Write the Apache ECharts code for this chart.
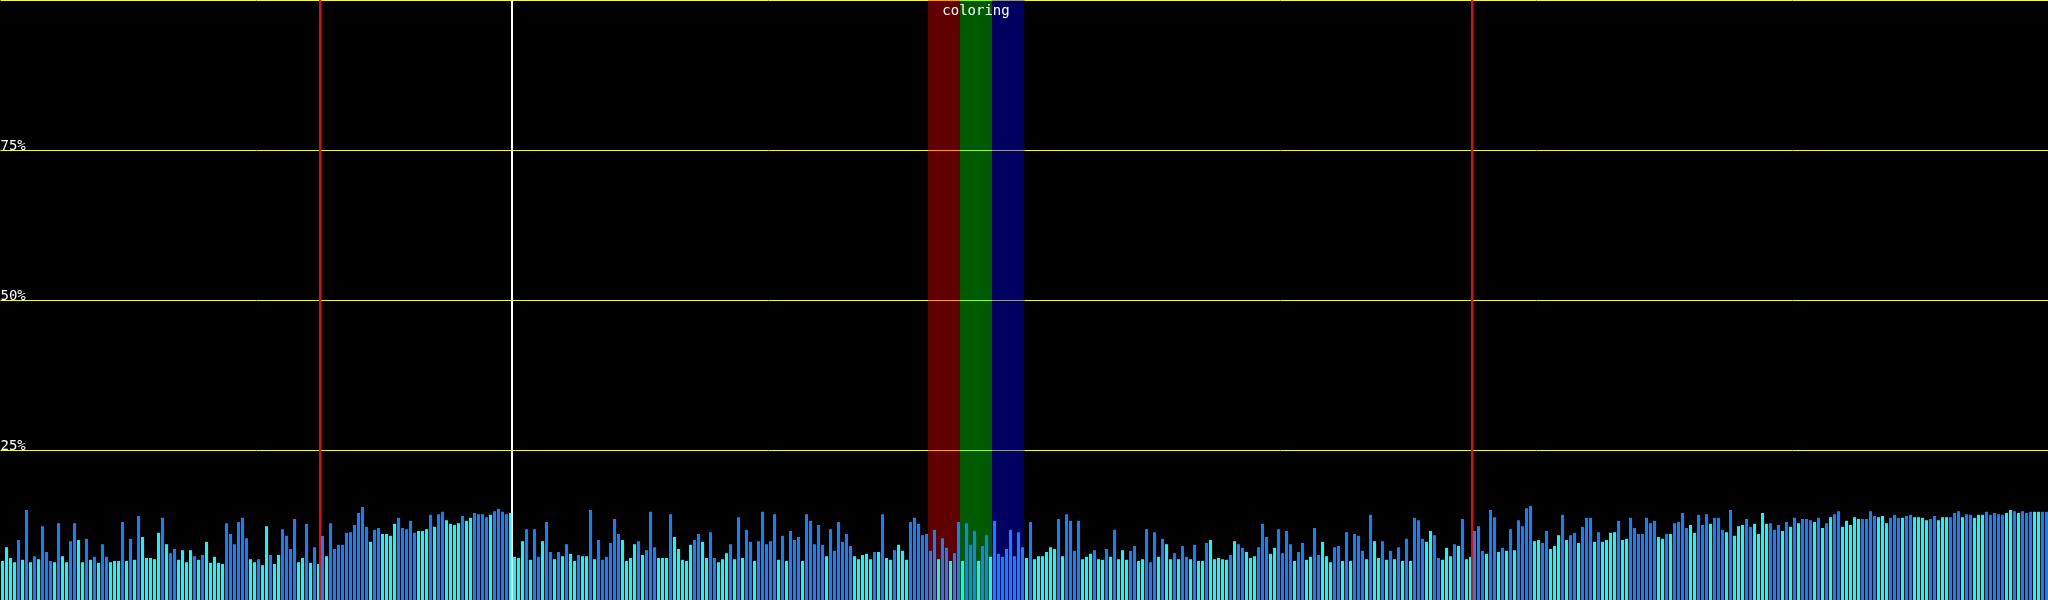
<!DOCTYPE html>
<html>
<head>
<meta charset="utf-8">
<script src="https://cdn.jsdelivr.net/npm/echarts@6/dist/echarts.min.js"></script>
<style>
html,body{margin:0;padding:0;background:#000;}
#chart{width:2048px;height:600px;}
</style>
</head>
<body>
<div id="chart"></div>
<script>
// ---- data (values in % of full height) ----
const values1 = [6.5,8.8,7.0,6.3,10.0,6.7,15.0,6.3,7.3,6.8,
12.3,8.0,6.5,6.3,12.8,7.3,6.3,9.8,12.8,10.0,
6.3,10.2,6.7,7.2,6.2,9.3,7.2,6.3,6.5,6.5,
13.0,6.5,10.2,6.7,14.0,10.5,7.0,7.0,6.8,11.2,
13.7,9.3,7.8,8.5,6.7,8.3,6.3,8.3,7.3,6.7,
7.5,9.7,6.2,7.2,6.2,6.0,12.8,11.0,9.3,13.0,
13.7,10.3,6.8,6.3,6.8,5.8,12.3,7.5,6.0,7.5,
11.8,10.7,8.5,13.5,6.3,7.0,12.7,6.2,8.8,6.0,
10.7,7.3,12.8,8.5,9.2,9.2,11.2,11.3,12.5,14.5,
15.5,12.2,9.7,11.7,12.0,11.0,11.0,10.7,12.7,13.7];
const values2 = [12.0,11.8,13.2,11.2,11.5,11.5,11.8,14.2,12.2,14.3,
14.7,13.3,12.7,12.5,12.8,14.0,13.2,13.7,14.5,14.3,
14.3,13.8,14.2,14.8,15.2,14.7,14.3,14.5,7.2,7.0,
9.8,11.8,6.7,11.8,7.2,9.8,13.0,8.0,6.8,8.0,
7.3,9.3,7.7,6.5,7.5,7.3,7.3,15.0,6.8,10.0,
6.7,7.2,9.5,13.5,11.0,10.0,6.5,7.0,9.3,9.8,
7.5,8.3,14.7,8.8,7.0,7.0,7.0,14.3,10.5,8.5,
6.7,6.5,9.2,10.0,11.0,9.7,7.0,11.3,7.0,6.3,
6.8,7.8,9.3,6.8,13.8,7.0,11.7,9.7,6.5,9.8,
14.7,9.3,9.8,14.3,6.7,10.7,6.5,11.5,10.0,10.5];
const values3 = [6.5,14.3,13.2,9.3,12.5,9.2,7.3,11.8,8.2,13.0,
9.7,11.0,9.0,7.3,6.8,7.5,7.7,6.8,8.0,8.0,
14.3,7.0,6.7,8.3,9.2,8.2,6.7,13.0,13.7,12.7,
10.8,11.0,8.2,11.7,6.8,10.3,8.7,6.5,7.8,13.0,
6.5,12.8,9.2,11.5,6.5,9.0,10.8,7.2,13.2,7.7,
7.2,8.5,11.7,7.3,11.3,8.8,7.0,13.0,6.8,7.3,
7.3,8.0,8.8,8.5,13.5,7.3,14.3,13.2,8.2,13.2,
6.8,7.2,7.7,8.3,6.8,6.7,8.5,7.2,11.7,6.8,
8.3,6.7,8.2,9.0,6.5,6.8,11.8,6.3,11.3,7.2,
10.2,9.3,6.8,7.8,6.8,9.0,7.2,6.8,9.2,6.5];
const values4 = [6.5,9.5,10.0,6.8,7.0,6.8,6.7,7.5,9.8,9.3,
8.7,8.0,7.0,7.3,8.8,12.7,10.5,7.7,8.7,11.8,
7.8,11.5,9.3,6.5,8.0,9.5,6.7,7.2,12.0,7.5,
9.7,7.3,6.3,8.8,9.0,6.5,11.3,6.5,11.0,10.7,
8.2,6.8,14.2,9.8,7.0,9.8,6.7,8.2,6.8,8.8,
6.5,10.2,6.5,13.7,13.3,10.2,9.7,11.5,10.8,7.0,
6.7,8.7,7.3,9.3,9.0,13.5,6.8,7.2,11.5,12.3,
8.2,7.7,15.0,13.8,8.0,8.7,8.2,11.8,8.3,13.3,
12.3,15.3,15.7,9.8,10.0,9.5,11.5,8.5,9.0,10.8,
14.2,10.0,10.8,11.2,9.5,12.2,13.7,13.7,9.7,11.3];
const values5 = [9.7,10.0,11.2,11.3,13.2,10.0,10.2,13.7,12.0,11.0,
11.0,13.7,12.8,13.2,10.5,10.2,11.0,11.0,12.8,13.0,
14.5,12.0,12.5,11.2,14.2,12.5,14.3,12.7,13.7,13.7,
11.7,11.3,15.0,10.7,12.3,12.5,13.5,12.2,12.7,11.0,
14.5,12.7,12.8,11.7,12.5,11.5,13.0,12.2,13.7,12.8,
13.5,13.5,13.3,13.0,13.7,12.0,12.8,13.8,14.3,14.8,
12.2,13.2,12.5,13.8,13.5,13.5,13.5,14.8,14.0,13.8,
14.0,12.8,13.7,14.2,13.7,13.7,14.0,14.2,13.8,13.8,
13.7,13.3,13.5,14.0,13.3,13.8,13.8,13.8,14.5,14.8,
13.8,14.3,14.2,13.7,14.2,14.2,14.7,14.2,14.5,14.3,
14.2,14.5,15.0,14.8,14.5,14.8,14.5,14.7,14.7,14.7,
14.7,14.7];

// bar kind per bar: c = cyan, b = blue
const kinds1 = "ccccbcbcbc" + "bbbcbccbbc" + "cbcbcbbccc" + "bcbcbccccc" + "bcbbccccbc" +
               "bcccccbbbb" + "bbccbccbcc" + "bbbbccbcbc" + "bcbbbbbbbb" + "bbcbbccccb";
const kinds2 = "bbbbcccbcb" + "bccccbccbb" + "bbcbbbbccc" + "cbcbbcbbcb" + "cbccbccbcb" +
               "bbbbbccccb" + "cbbbcccbcc" + "cccbbccbbc" + "ccbcbcbbcb" + "bbbbcbcbbb";
const kinds3 = "cbbbbbcbbb" + "bbbcccccbc" + "bccbcccbbb" + "bbbbcbbcbb" + "cbbbcbbcbb" +
               "bbbbbbcbcc" + "ccccbcbbbb" + "cccbccbcbc" + "ccbbccbbbc" + "bccbcbbcbc";
const kinds4 = "cbcccccbcb" + "bcccbbbccb" + "bbbcbbccbb" + "cccbbcbcbb" + "bcbccbcbcb" +
               "cbcbbbccbb" + "cccbcbccbb" + "bcbbcbcbcb" + "bbbccbbccc" + "bcbbcbbbcb";
const kinds5 = "ccccbccbbb" + "bbbbccbcbb" + "bbccbbbcbb" + "bcbcccbbcc" + "ccbbbcbcbc" +
               "bbbcbcbcbb" + "cccccbbbbc" + "ccbbbcbbcc" + "ccbbcccbbb" + "cbbcccbbbb" +
               "bccbcbbbcc" + "bb";

const yTickLabels = {25: '25%', 50: '50%', 75: '75%'};

// marker lines (at bar-slot boundaries) and coloured bands
const markerLines = [
  {at: 80,  color: '#ff0000'},
  {at: 128, color: '#ffffff'},
  {at: 368, color: '#ff0000'}
];
const bands = [
  {from: 232, to: 240, color: 'rgba(255,0,0,0.38)',  label: ''},
  {from: 240, to: 248, color: 'rgba(0,240,0,0.38)',  label: 'coloring'},
  {from: 248, to: 256, color: 'rgba(0,0,255,0.38)',  label: ''}
];

const values = [].concat(values1, values2, values3, values4, values5);
const kinds = (kinds1 + kinds2 + kinds3 + kinds4 + kinds5).split('');
const categories = values.map((_, i) => String(i));
const CYAN = '#00ffff';
const BLUE = '#0a84ff';

const chart = echarts.init(document.getElementById('chart'), null, {renderer: 'canvas'});
chart.setOption({
  backgroundColor: '#000000',
  animation: false,
  grid: [
    {left: 0.5, top: 0, width: 2048, height: 600, containLabel: false, outerBoundsMode: 'none'},
    {left: 0, top: 0, width: 2048, height: 600, containLabel: false, outerBoundsMode: 'none'}
  ],
  xAxis: [
    {type: 'category', gridIndex: 0, data: categories, show: false, boundaryGap: true},
    {type: 'value', gridIndex: 1, min: 0, max: values.length, show: false}
  ],
  yAxis: [
    {
      type: 'value', gridIndex: 0, min: 0, max: 100, interval: 25,
      axisLine: {show: false}, axisTick: {show: false},
      splitLine: {show: true, lineStyle: {color: ['rgba(0,0,0,0)', '#ffff00', '#ffff00', '#ffff00', '#ffff00'], width: 1}},
      axisLabel: {
        show: true, inside: true, margin: 0, align: 'left', verticalAlign: 'bottom',
        color: '#ffffff', fontFamily: 'DejaVu Sans Mono', fontSize: 14, lineHeight: 8,
        formatter: v => yTickLabels[v] || ''
      }
    },
    {type: 'value', gridIndex: 1, min: 0, max: 100, show: false}
  ],
  series: [
    {
      type: 'bar', xAxisIndex: 0, yAxisIndex: 0, barWidth: 3, z: 2,
      data: values.map((v, i) => ({value: v, itemStyle: {color: kinds[i] === 'c' ? CYAN : BLUE}})),
      silent: true
    },
    {
      type: 'line', xAxisIndex: 1, yAxisIndex: 1, data: [], z: 5, silent: true,
      markArea: {
        silent: true,
        data: bands.map(b => [
          {xAxis: b.from, itemStyle: {color: b.color},
           label: {show: !!b.label, formatter: b.label, position: 'insideTop', distance: 4,
                   color: '#ffffff', fontFamily: 'DejaVu Sans Mono', fontSize: 14}},
          {xAxis: b.to, yAxis: 100}
        ])
      },
      markLine: {
        silent: true, symbol: ['none', 'none'], label: {show: false},
        data: markerLines.map(m => ({xAxis: m.at, lineStyle: {color: m.color, width: 2, type: 'solid'}}))
      }
    }
  ]
});
</script>
</body>
</html>
